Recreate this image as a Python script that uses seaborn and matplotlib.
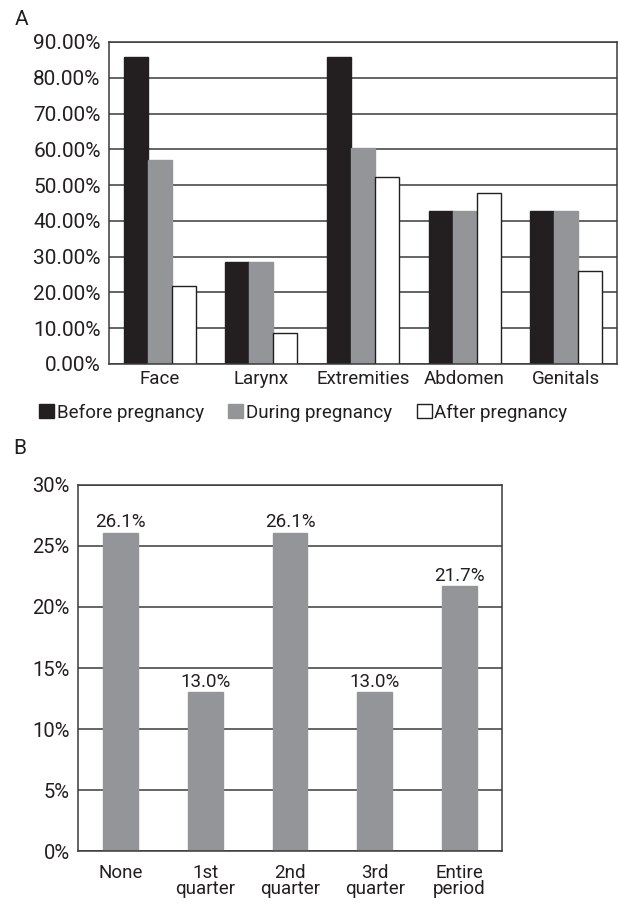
import matplotlib
matplotlib.use("Agg")
import matplotlib.pyplot as plt
from matplotlib.patches import Patch
import seaborn as sns
import pandas as pd
import numpy as np
from matplotlib.ticker import FuncFormatter, FixedLocator

# ---- data ----
regions = ["Face", "Larynx", "Extremities", "Abdomen", "Genitals"]
periods = ["Before pregnancy", "During pregnancy", "After pregnancy"]
before = [85.71, 28.57, 85.71, 42.86, 42.86]
during = [57.14, 28.57, 60.5, 42.86, 42.86]
after = [21.74, 8.70, 52.17, 47.83, 26.09]

onset = ["None", "1st\nquarter", "2nd\nquarter", "3rd\nquarter", "Entire\nperiod"]
onset_pct = [26.1, 13.0, 26.1, 13.0, 21.7]

# ---- style ----
sns.set_style("white")
plt.rcParams["font.family"] = ["Roboto", "DejaVu Sans"]
plt.rcParams["text.color"] = "#231f20"
plt.rcParams["xtick.color"] = "#231f20"
plt.rcParams["ytick.color"] = "#231f20"

BLACK = "#231f20"
GRAY = "#939598"
WHITE = "#ffffff"
LINE = "#3a3a3a"

fig = plt.figure(figsize=(6.19, 9.07), dpi=100)

# ---- panel A ----
axA = fig.add_axes([0.1761, 0.5987, 0.8207, 0.3550])
dfA = pd.DataFrame({
    "region": regions * 3,
    "period": [periods[0]] * 5 + [periods[1]] * 5 + [periods[2]] * 5,
    "value": before + during + after,
})
sns.barplot(data=dfA, x="region", y="value", hue="period", order=regions,
            hue_order=periods, palette=[BLACK, GRAY, WHITE], width=0.71,
            saturation=1, ax=axA, legend=False)
edges = [BLACK, GRAY, BLACK]
for cont, ec in zip(axA.containers, edges):
    for p in cont.patches:
        p.set_edgecolor(ec)
        p.set_linewidth(1.0)
axA.set_ylim(0, 90)
axA.set_xlim(-0.5, 4.5)
axA.yaxis.set_major_locator(FixedLocator(np.arange(0, 91, 10)))
axA.yaxis.set_major_formatter(FuncFormatter(lambda v, p: f"{v:.2f}%"))
axA.set_axisbelow(True)
axA.grid(axis="y", color=LINE, linewidth=1.1)
axA.set_xlabel("")
axA.set_ylabel("")
axA.xaxis.set_minor_locator(FixedLocator(np.arange(-0.5, 4.6, 1.0)))
axA.tick_params(axis="x", which="major", length=0, labelsize=13.5, pad=4)
axA.tick_params(axis="x", which="minor", length=6, width=1.1, color=LINE)
axA.tick_params(axis="y", length=5, width=1.1, color=LINE, labelsize=15, pad=1)
for s in axA.spines.values():
    s.set_visible(True)
    s.set_color(LINE)
    s.set_linewidth(1.1)
handles = [Patch(facecolor=fc, edgecolor=ec, linewidth=1.0)
           for fc, ec in zip([BLACK, GRAY, WHITE], edges)]
fig.legend(handles, periods, loc="center", bbox_to_anchor=(0.49, 0.545),
           ncol=3, frameon=False, fontsize=13.5, handlelength=0.8,
           handleheight=0.8, handletextpad=0.15, columnspacing=1.3,
           borderaxespad=0)
fig.text(0.024, 0.978, "A", fontsize=15, ha="left", va="center")

# ---- panel B ----
axB = fig.add_axes([0.1260, 0.0617, 0.6850, 0.4036])
dfB = pd.DataFrame({"onset": onset, "pct": onset_pct})
sns.barplot(data=dfB, x="onset", y="pct", order=onset, color=GRAY,
            saturation=1, width=0.41, ax=axB)
for p in axB.patches:
    p.set_edgecolor(GRAY)
for cont in axB.containers:
    axB.bar_label(cont, labels=[f"{v:.1f}%" for v in onset_pct],
                  fontsize=13.5, padding=1, color=BLACK)
axB.set_ylim(0, 30)
axB.set_xlim(-0.5, 4.5)
axB.yaxis.set_major_locator(FixedLocator(np.arange(0, 31, 5)))
axB.yaxis.set_major_formatter(FuncFormatter(lambda v, p: f"{v:.0f}%"))
axB.set_axisbelow(True)
axB.grid(axis="y", color=LINE, linewidth=1.1)
axB.set_xlabel("")
axB.set_ylabel("")
axB.xaxis.set_minor_locator(FixedLocator(np.arange(-0.5, 4.6, 1.0)))
axB.tick_params(axis="x", which="major", length=0, labelsize=13.5, pad=9)
axB.tick_params(axis="x", which="minor", length=7, width=1.1, color=LINE)
axB.tick_params(axis="y", length=5, width=1.1, color=LINE, labelsize=14.5, pad=1)
for lbl in axB.get_xticklabels():
    lbl.set_linespacing(0.9)
for s in axB.spines.values():
    s.set_visible(True)
    s.set_color(LINE)
    s.set_linewidth(1.1)
fig.text(0.022, 0.505, "B", fontsize=15, ha="left", va="center")

fig.savefig("out.png", dpi=100)
